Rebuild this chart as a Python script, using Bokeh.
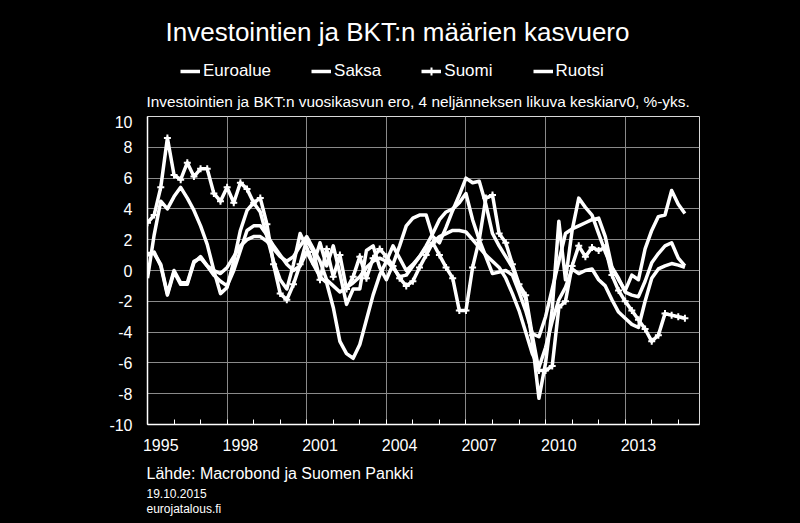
from bokeh.plotting import figure
from bokeh.models import Range1d, FixedTicker, Legend, LegendItem
from bokeh.layouts import column
from bokeh.core.properties import value
from bokeh.embed import file_html
from bokeh.resources import INLINE

# Quarterly observations 1995Q1 .. 2015Q2 (plotted at start of quarter)
quarters = [year + q / 4 for year in range(1995, 2016) for q in range(4)][:82]

euroalue = [
    1.0, 1.2, 0.3, -1.6,   -0.1, -0.9, -0.9, 0.5,   0.9, 0.3, 0.0, -0.2,
    0.2, 0.9, 1.6, 2.0,    2.2, 2.2, 1.9, 1.4,     0.9, 0.6, 0.9, 1.6,
    2.2, 1.4, 0.6, -0.6,   -1.0, -1.4, -1.1, -0.8, -0.4, 0.2, 0.6, 0.8,
    0.6, 0.2, -0.4, -0.3,  0.3, 0.9, 1.4, 1.8,     2.2, 2.4, 2.6, 2.6,
    2.5, 2.0, 1.5, 1.0,    0.6, 0.2, -0.5, -1.5,   -2.6, -4.0, -5.4, -6.3,
    -5.0, -3.3, -1.9, -1.1, 0.1, -0.2, 0.0, 0.1,   -0.6, -1.0, -1.9, -2.7,
    -3.1, -3.5, -3.7, -2.0, -0.5, 0.1, 0.3, 0.45,  0.35, 0.2,
]
saksa = [
    1.1, 1.1, 0.4, -1.5,   0.0, -0.8, -0.8, 0.6,   0.8, 0.3, -0.3, -0.7,
    -1.0, 0.0, 1.3, 2.6,   2.9, 2.9, 2.3, 1.6,     1.0, 0.4, 0.0, 0.3,
    1.2, 0.4, -0.4, -0.8,  -2.4, -4.6, -5.4, -5.7, -4.8, -3.2, -1.6, -0.3,
    0.6, 1.6, 0.8, 0.0,    0.4, 0.9, 1.6, 2.4,     3.3, 3.8, 4.0, 4.4,
    5.0, 3.3, 2.0, 0.9,    -0.2, -0.1, 0.0, -0.3,  -1.4, -2.6, -4.1, -4.3,
    -3.0, -1.2, 0.6, 2.4,  2.7, 2.9, 3.1, 3.3,     3.4, 2.2, 0.2, -0.5,
    -1.4, -1.6, -1.7, -0.7, 0.5, 1.1, 1.6, 1.8,    0.8, 0.3,
]
suomi = [
    3.1, 3.6, 5.4, 8.6,    6.2, 5.9, 7.0, 6.1,     6.6, 6.6, 5.0, 4.5,
    5.4, 4.4, 5.7, 5.3,    4.4, 4.7, 3.0, 0.4,     -1.5, -1.9, -0.9, 0.4,
    2.0, 1.2, -0.6, 1.4,   -0.4, 1.0, -1.2, -0.4,  0.9, -0.5, 0.8, 1.4,
    0.9, 0.3, -0.5, -1.0,  -0.7, 0.2, 1.0, 1.8,    1.0, 0.2, -0.5, -2.6,
    -2.6, 0.2, 2.0, 4.7,   4.9, 2.4, 1.8, 0.4,     -0.9, -1.6, -4.2, -6.5,
    -6.5, -6.2, -2.4, -2.0, 0.3, 1.6, 0.9, 1.5,    1.3, 1.5, -0.3, -1.3,
    -2.0, -2.6, -3.2, -3.8, -4.6, -4.2, -2.8, -2.9, -3.0, -3.1,
]
ruotsi = [
    -0.5, 2.3, 4.5, 4.0,   4.8, 5.4, 4.7, 3.9,     2.9, 1.7, 0.0, -1.5,
    -1.1, 0.6, 2.6, 3.9,   4.4, 3.8, 2.2, 0.6,     -0.6, -1.2, 0.4, 2.4,
    1.5, 0.4, 1.8, 0.3,    1.6, -0.2, -2.2, -1.2,  -1.2, 1.3, 1.6, 0.2,
    -0.6, 0.4, 1.6, 2.9,   3.4, 3.6, 3.6, 2.2,     1.8, 2.8, 3.9, 4.9,
    6.0, 5.7, 5.8, 4.3,    2.4, 1.6, 0.9, 0.2,     -1.0, -1.8, -4.6, -8.3,
    -6.0, -2.5, 3.2, -0.6, 2.6, 4.7, 4.1, 3.6,     2.4, 1.2, 0.2, -0.6,
    -1.3, -0.3, -0.6, 1.4, 2.6, 3.5, 3.6, 5.2,     4.3, 3.7,
]

series_names = ["Euroalue", "Saksa", "Suomi", "Ruotsi"]
label_years = ["1995", "1998", "2001", "2004", "2007", "2010", "2013"]
grid_years = [1998, 2001, 2004, 2007, 2010, 2013]
y_ticks = [-10, -8, -6, -4, -2, 0, 2, 4, 6, 8, 10]

title_text = "Investointien ja BKT:n määrien kasvuero"
subtitle_text = "Investointien ja BKT:n vuosikasvun ero, 4 neljänneksen likuva keskiarv0, %-yks."
source_text = "Lähde: Macrobond ja Suomen Pankki"
date_text = "19.10.2015"
site_text = "eurojatalous.fi"

FONT = "Liberation Sans"
W = 800
TOP_H, MAIN_H = 115, 340
BOT_H = 523 - TOP_H - MAIN_H
lw = 3.5
BLACK_BG = {"background-color": "black"}


def text_panel(h):
    f = figure(width=W, height=h, output_backend="svg", toolbar_location=None,
               title=None, x_axis_type=None, y_axis_type=None,
               x_range=Range1d(0, W), y_range=Range1d(h, 0), min_border=0,
               background_fill_color="black", border_fill_color="black",
               frame_align=False, styles=BLACK_BG)
    f.outline_line_color = None
    return f


def put_text(f, x, y, text, size, align="left"):
    f.text(x=[x], y=[y], text=[text], text_color="white", text_font=value(FONT),
           text_font_size=value(size), text_align=align, text_baseline="middle")


# ---- top panel: title, legend, subtitle ----
top = text_panel(TOP_H)
put_text(top, 397, 31, title_text, "26px", "center")
put_text(top, 146, 101, subtitle_text, "15.4px")
# legend sample glyphs (a single point each, outside the visible area)
leg_r = [top.line(x=[-50], y=[-50], line_color="white", line_width=lw) for _ in series_names]
leg_m = top.scatter(x=[-50], y=[-50], marker="cross", size=7, line_color="white", line_width=2)
legend = Legend(items=[
    LegendItem(label=series_names[0], renderers=[leg_r[0]]),
    LegendItem(label=series_names[1], renderers=[leg_r[1]]),
    LegendItem(label=series_names[2], renderers=[leg_r[2], leg_m]),
    LegendItem(label=series_names[3], renderers=[leg_r[3]]),
], orientation="horizontal", location=(180, TOP_H - 81),
    glyph_width=20, glyph_height=20, label_standoff=3, spacing=40,
    padding=0, margin=0, label_text_color="white", label_text_font=FONT,
    label_text_font_size="17px", background_fill_alpha=0, border_line_alpha=0)
top.add_layout(legend)

# ---- main chart ----
p = figure(width=W, height=MAIN_H, output_backend="svg", toolbar_location=None,
           title=None, frame_align=False, styles=BLACK_BG,
           x_range=Range1d(1995, 2015.8), y_range=Range1d(-10, 10),
           min_border_left=147, min_border_right=W - 699,
           min_border_top=116 - TOP_H, min_border_bottom=TOP_H + MAIN_H - 424,
           background_fill_color="black", border_fill_color="black",
           outline_line_color="#d9d9d9", outline_line_width=1)

mid_ticks = [int(y) + 0.5 for y in label_years]
p.xaxis.ticker = FixedTicker(ticks=mid_ticks, minor_ticks=list(range(1995, 2016)))
p.xaxis.major_label_overrides = {t: y for t, y in zip(mid_ticks, label_years)}
p.xaxis.major_tick_line_color = None
p.xaxis.minor_tick_line_color = "white"
p.xaxis.minor_tick_in = 5
p.xaxis.minor_tick_out = 0
p.xaxis.axis_line_color = "white"
p.xaxis.axis_line_width = 1.5
p.xaxis.major_label_text_color = "white"
p.xaxis.major_label_text_font = FONT
p.xaxis.major_label_text_font_size = "16px"
p.xaxis.major_label_standoff = 8

p.yaxis.ticker = FixedTicker(ticks=y_ticks)
p.yaxis.major_label_overrides = {t: str(t) for t in y_ticks}
p.yaxis.major_tick_line_color = None
p.yaxis.minor_tick_line_color = None
p.yaxis.axis_line_color = "white"
p.yaxis.axis_line_width = 1.5
p.yaxis.major_label_text_color = "white"
p.yaxis.major_label_text_font = FONT
p.yaxis.major_label_text_font_size = "16px"
p.yaxis.major_label_standoff = 9

p.ygrid.grid_line_color = "#8a8a8a"
p.ygrid.grid_line_width = 1
p.xgrid.ticker = FixedTicker(ticks=grid_years)
p.xgrid.grid_line_color = "#8a8a8a"
p.xgrid.grid_line_width = 1

for vals in (euroalue, saksa, ruotsi, suomi):
    p.line(quarters, vals, line_color="white", line_width=lw, line_join="round")
p.scatter(quarters, suomi, marker="cross", size=7, line_color="white", line_width=2)

# ---- bottom panel: source, date, site ----
bot = text_panel(BOT_H)
y0 = TOP_H + MAIN_H
put_text(bot, 146, 473 - y0, source_text, "16px")
put_text(bot, 146, 493 - y0, date_text, "12px")
put_text(bot, 146, 508 - y0, site_text, "12px")

layout = column(top, p, bot, spacing=0, styles=BLACK_BG)
open("out.html", "w").write(file_html(layout, INLINE))
